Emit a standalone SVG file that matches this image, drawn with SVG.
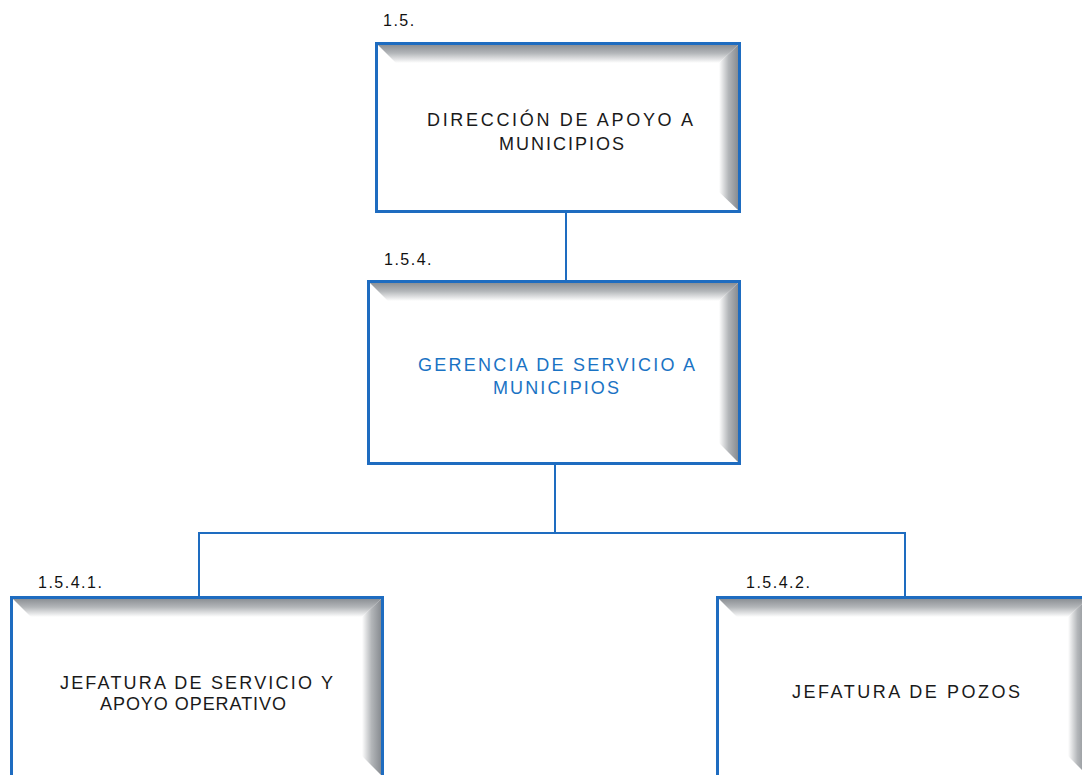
<svg xmlns="http://www.w3.org/2000/svg" width="1082" height="775" viewBox="0 0 1082 775">
<defs>
<linearGradient id="gTop" x1="0" y1="0" x2="0" y2="1">
<stop offset="0" stop-color="#8c9095"/>
<stop offset="0.45" stop-color="#b3b6b9"/>
<stop offset="1" stop-color="#ffffff"/>
</linearGradient>
<linearGradient id="gRight" x1="0" y1="0" x2="1" y2="0">
<stop offset="0" stop-color="#ffffff"/>
<stop offset="0.5" stop-color="#b3b6b9"/>
<stop offset="1" stop-color="#888c91"/>
</linearGradient>
<style>
.box{fill:#ffffff;stroke:#1e6cc0;stroke-width:3}
.top{fill:url(#gTop)}
.right{fill:url(#gRight)}
.conn{stroke:#1e6cc0;stroke-width:2;fill:none}
.lbl{font-family:"Liberation Sans",Arial,sans-serif;font-size:16px;fill:#111111;letter-spacing:1.5px}
.t{font-family:"Liberation Sans",Arial,sans-serif;font-size:18px;fill:#1a1a1a}
.tb{fill:#1a73c4}
</style>
</defs>
<rect width="1082" height="775" fill="#ffffff"/>
<g id="connectors">
<line class="conn" x1="566" y1="213" x2="566" y2="281"/>
<line class="conn" x1="555" y1="465" x2="555" y2="533"/>
<line class="conn" x1="198" y1="533" x2="906" y2="533"/>
<line class="conn" x1="199" y1="533" x2="199" y2="597"/>
<line class="conn" x1="905" y1="533" x2="905" y2="597"/>
</g>
<g id="node-1-5">
<rect class="box" x="376.5" y="43.5" width="363" height="168"/>
<polygon class="top" points="378,45 738,45 719,63 396,63"/>
<polygon class="right" points="719,63 738,45 738,210 719,192"/>
<text class="lbl" x="383" y="26">1.5.</text>
<text class="t" x="427" y="126" textLength="266" lengthAdjust="spacing">DIRECCIÓN DE APOYO A</text>
<text class="t" x="499" y="150" textLength="125" lengthAdjust="spacing">MUNICIPIOS</text>
</g>
<g id="node-1-5-4">
<rect class="box" x="368.5" y="281.5" width="371" height="182"/>
<polygon class="top" points="370,283 738,283 719,301 388,301"/>
<polygon class="right" points="719,301 738,283 738,462 719,443"/>
<text class="lbl" x="384" y="265">1.5.4.</text>
<text class="t tb" x="418" y="371" textLength="277" lengthAdjust="spacing">GERENCIA DE SERVICIO A</text>
<text class="t tb" x="493" y="394" textLength="126" lengthAdjust="spacing">MUNICIPIOS</text>
</g>
<g id="node-1-5-4-1">
<rect class="box" x="11.5" y="597.5" width="371" height="200"/>
<polygon class="top" points="13,599 381,599 362,617 31,617"/>
<polygon class="right" points="362,617 381,599 381,775 362,756"/>
<text class="lbl" x="38" y="588">1.5.4.1.</text>
<text class="t" x="60" y="689" textLength="273" lengthAdjust="spacing">JEFATURA DE SERVICIO Y</text>
<text class="t" x="100" y="710" textLength="186" lengthAdjust="spacing">APOYO OPERATIVO</text>
</g>
<g id="node-1-5-4-2">
<rect class="box" x="717.5" y="597.5" width="371" height="200"/>
<polygon class="top" points="719,599 1087,599 1068,617 737,617"/>
<polygon class="right" points="1068,617 1087,599 1087,775 1068,756"/>
<text class="lbl" x="746" y="588">1.5.4.2.</text>
<text class="t" x="792" y="698" textLength="228" lengthAdjust="spacing">JEFATURA DE POZOS</text>
</g>
</svg>
